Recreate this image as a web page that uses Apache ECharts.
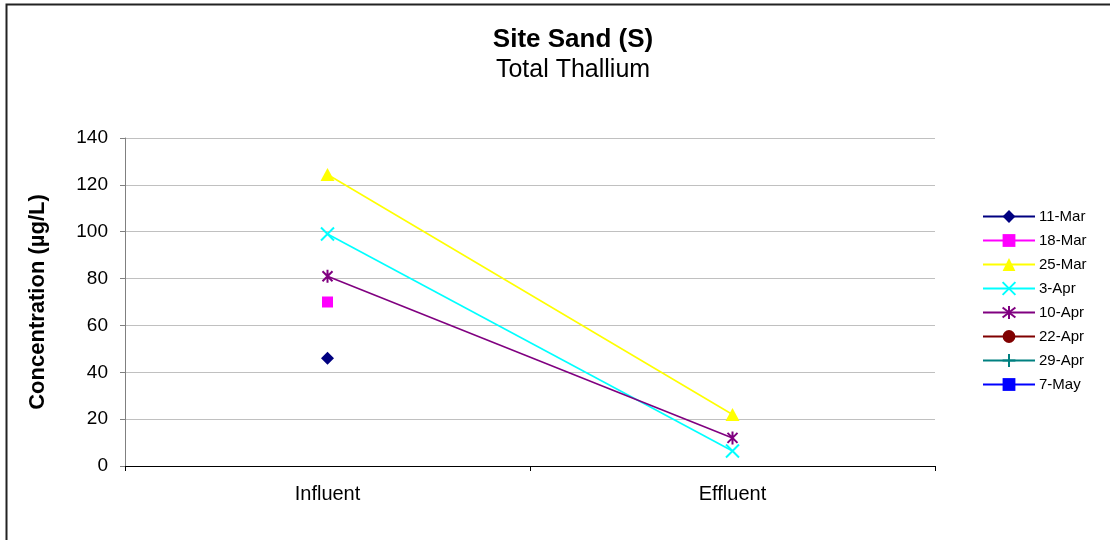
<!DOCTYPE html>
<html>
<head>
<meta charset="utf-8">
<script src="https://cdn.jsdelivr.net/npm/echarts@6/dist/echarts.min.js"></script>
<style>
html,body{margin:0;padding:0;background:#fff;}
#chart{width:1110px;height:540px;}
</style>
</head>
<body>
<div id="chart"></div>
<script>
var categories = ['Influent', 'Effluent'];
var seriesNames = ['11-Mar', '18-Mar', '25-Mar', '3-Apr', '10-Apr', '22-Apr', '29-Apr', '7-May'];
var s11Mar = [46, null];
var s18Mar = [70, null];
var s25Mar = [124.4, 22];
var s3Apr = [99, 6.4];
var s10Apr = [81, 12];
var s22Apr = [null, null];
var s29Apr = [null, null];
var s7May = [null, null];
var yTicks = [0, 20, 40, 60, 80, 100, 120, 140];

var colors = ['#000080', '#FF00FF', '#FFFF00', '#00FFFF', '#800080', '#800000', '#008080', '#0000FF'];
var values = [s11Mar, s18Mar, s25Mar, s3Apr, s10Apr, s22Apr, s29Apr, s7May];
var symbols = [
  {symbol: 'diamond', size: 13, stroke: false},
  {symbol: 'rect', size: 11, stroke: false},
  {symbol: 'triangle', size: [14, 13], stroke: false},
  {symbol: 'path://M0,0L10,10M10,0L0,10', size: 13, stroke: true},
  {symbol: 'path://M0,0L10,10M10,0L0,10M5,-1.5L5,11.5', size: 13, stroke: true},
  {symbol: 'circle', size: 12, stroke: false},
  {symbol: 'path://M5,0L5,10M0,5L10,5', size: 13, stroke: true},
  {symbol: 'path://M0,0L8,0L8,5L0,5Z', size: [8, 5], stroke: false}
];

var FONT = '"Liberation Sans", Arial, sans-serif';

var series = seriesNames.map(function (name, i) {
  var sm = symbols[i];
  return {
    name: name,
    type: 'line',
    data: values[i],
    symbol: sm.symbol,
    symbolSize: sm.size,
    symbolKeepAspect: true,
    showSymbol: true,
    connectNulls: false,
    lineStyle: {color: colors[i], width: 1.6},
    itemStyle: sm.stroke
      ? {color: 'rgba(0,0,0,0)', borderColor: colors[i], borderWidth: 2}
      : {color: colors[i], borderWidth: 0},
    emphasis: {disabled: true},
    animation: false
  };
});

var chart = echarts.init(document.getElementById('chart'), null, {renderer: 'canvas'});
chart.setOption({
  backgroundColor: '#ffffff',
  animation: false,
  textStyle: {fontFamily: FONT},
  title: [
    {text: 'Site Sand (S)', left: 568, top: 22, textAlign: 'center',
     textStyle: {fontFamily: FONT, fontSize: 26, fontWeight: 'bold', color: '#000'}},
    {text: 'Total Thallium', left: 568, top: 53, textAlign: 'center',
     textStyle: {fontFamily: FONT, fontSize: 25, fontWeight: 'normal', color: '#000'}}
  ],
  legend: {
    orient: 'vertical',
    left: 977,
    top: 204,
    itemWidth: 52,
    itemHeight: 16,
    itemGap: 9,
    data: seriesNames,
    textStyle: {fontFamily: FONT, fontSize: 15, color: '#000', padding: [0, 0, 0, -1]}
  },
  grid: {left: 125, right: 175, top: 138, bottom: 74, containLabel: false},
  xAxis: {
    type: 'category',
    data: categories,
    boundaryGap: true,
    axisLine: {lineStyle: {color: '#000', width: 1}},
    axisTick: {show: true, length: 5, lineStyle: {color: '#000'}, alignWithLabel: false},
    axisLabel: {fontFamily: FONT, fontSize: 20, color: '#000', margin: 18},
    splitLine: {show: false}
  },
  yAxis: {
    type: 'value',
    min: yTicks[0],
    max: yTicks[yTicks.length - 1],
    interval: 20,
    name: 'Concentration (µg/L)',
    nameLocation: 'middle',
    nameGap: 76,
    nameRotate: 90,
    nameTextStyle: {fontFamily: FONT, fontSize: 22, fontWeight: 'bold', color: '#000'},
    axisLine: {show: true, lineStyle: {color: '#808080', width: 1}},
    axisTick: {show: true, length: 5, inside: false, lineStyle: {color: '#808080'}},
    axisLabel: {fontFamily: FONT, fontSize: 19, color: '#000', margin: 17},
    splitLine: {show: true, lineStyle: {color: '#c0c0c0', width: 1}}
  },
  graphic: [
    {type: 'polyline', shape: {points: [[6.5, 540], [6.5, 4.5], [1110, 4.5]]},
     style: {stroke: '#222', lineWidth: 2, fill: null}, silent: true}
  ],
  series: series
});
</script>
</body>
</html>
